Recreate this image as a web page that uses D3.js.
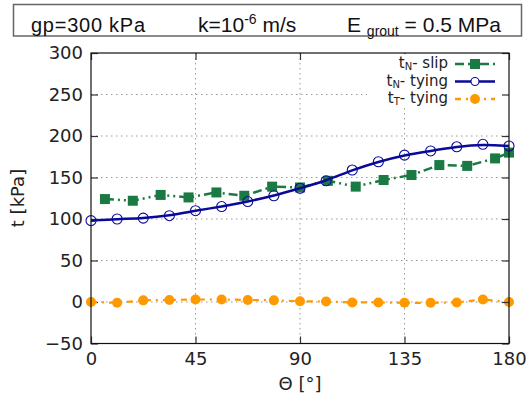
<!DOCTYPE html>
<html>
<head>
<meta charset="utf-8">
<script src="https://cdn.jsdelivr.net/npm/d3@7"></script>
<style>
  html, body { margin: 0; padding: 0; background: #fff; }
  svg { display: block; }
  text { font-family: "DejaVu Sans", sans-serif; fill: #222; }
</style>
</head>
<body>
<svg id="chart" width="526" height="399"></svg>
<script>
// Angle positions (degrees) and interface stresses (kPa)
const thetaSlip = [6, 18, 30, 42, 54, 66, 78, 90, 102, 114, 126, 138, 150, 162, 174, 180];
const tNSlip = [124, 122, 129, 126, 132, 128, 139, 138, 146, 139, 147, 153, 165, 164, 173, 180];

const thetaTying = [0, 11.25, 22.5, 33.75, 45, 56.25, 67.5, 78.75, 90, 101.25, 112.5, 123.75, 135, 146.25, 157.5, 168.75, 180];
const tNTying = [98, 100, 101, 104, 110, 115, 121, 128, 137, 146, 159, 169, 177, 182, 187, 190, 188];
const tTTying = [0, -1, 2, 2.5, 3, 3, 2.5, 2, 1, 0.5, -0.5, -0.5, -1, -1, -0.5, 3, 0];

const xTicks = [0, 45, 90, 135, 180];
const yTicks = [-50, 0, 50, 100, 150, 200, 250, 300];
const xGrid = [45, 90, 135];
const yGrid = [0, 50, 100, 150, 200, 250];

const svg = d3.select("#chart");
const L = 91, R = 509, T = 53, B = 343.5;
const x = d3.scaleLinear().domain([0, 180]).range([L, R]);
const y = d3.scaleLinear().domain([-50, 300]).range([B, T]);

const cGreen = "#1b7a43", cBlue = "#0a0a99", cOrange = "#ff9900";

// Header box with parameters
const head = svg.append("g");
head.append("rect").attr("x", 13.5).attr("y", 4.5).attr("width", 508).attr("height", 31.5)
  .attr("fill", "#fff").attr("stroke", "#666").attr("stroke-width", 1.5);
const hf = "'Liberation Sans', Arial, sans-serif";
head.append("text").attr("x", 31).attr("y", 31.5).style("font-family", hf)
  .style("font-size", "20px").style("fill", "#111").attr("textLength", 114).text("gp=300 kPa");
const t2 = head.append("text").attr("x", 198).attr("y", 31.5).style("font-family", hf)
  .style("font-size", "21px").style("fill", "#111");
t2.append("tspan").text("k=10");
t2.append("tspan").attr("dy", -8).style("font-size", "14px").text("-6");
t2.append("tspan").attr("dy", 8).text(" m/s");
const t3 = head.append("text").attr("x", 347).attr("y", 31.5).style("font-family", hf)
  .style("font-size", "21px").style("fill", "#111");
t3.append("tspan").text("E ");
t3.append("tspan").attr("dy", 4).style("font-size", "14px").text("grout");
t3.append("tspan").attr("dy", -4).text(" = 0.5 MPa");

// Grid
const grid = svg.append("g").attr("stroke", "#999").attr("stroke-width", 1)
  .attr("stroke-dasharray", "1.5,3.5");
grid.selectAll("line.gx").data(xGrid).join("line").attr("class", "gx")
  .attr("x1", d => x(d)).attr("x2", d => x(d)).attr("y1", T).attr("y2", B);
grid.selectAll("line.gy").data(yGrid).join("line").attr("class", "gy")
  .attr("x1", L).attr("x2", R).attr("y1", d => y(d)).attr("y2", d => y(d));

// Axes (inward ticks, mirrored)
function styleAxis(g) {
  g.select(".domain").remove();
  g.selectAll(".tick line").attr("stroke", "#333").attr("stroke-width", 1.2);
  g.selectAll(".tick text").style("font-family", "'DejaVu Sans', sans-serif")
    .style("font-size", "18px").attr("fill", "#222");
}
svg.append("g").attr("transform", `translate(0,${B})`)
  .call(d3.axisBottom(x).tickValues(xTicks).tickSize(-7).tickPadding(9).tickFormat(d3.format("d")))
  .call(styleAxis);
svg.append("g").attr("transform", `translate(0,${T})`)
  .call(d3.axisTop(x).tickValues(xTicks).tickSize(-7).tickFormat(""))
  .call(styleAxis);
svg.append("g").attr("transform", `translate(${L},0)`)
  .call(d3.axisLeft(y).tickValues(yTicks).tickSize(-7).tickPadding(8).tickFormat(d3.format("d")))
  .call(styleAxis);

// Series
const zipS = thetaSlip.map((t, i) => [t, tNSlip[i]]);
const zipN = thetaTying.map((t, i) => [t, tNTying[i]]);
const zipT = thetaTying.map((t, i) => [t, tTTying[i]]);

const lineLin = d3.line().x(d => x(d[0])).y(d => y(d[1]));
const lineSmooth = d3.line().x(d => x(d[0])).y(d => y(d[1])).curve(d3.curveBasis);

const plot = svg.append("g");
// tT tying
plot.append("path").attr("d", lineLin(zipT)).attr("fill", "none").attr("stroke", cOrange)
  .attr("stroke-width", 2.2).attr("stroke-dasharray", "6,5,2,5");
plot.selectAll("circle.tt").data(zipT).join("circle").attr("class", "tt")
  .attr("cx", d => x(d[0])).attr("cy", d => y(d[1])).attr("r", 5).attr("fill", cOrange);

// tN slip
plot.append("path").attr("d", lineLin(zipS)).attr("fill", "none").attr("stroke", cGreen)
  .attr("stroke-width", 2.5).attr("stroke-dasharray", "9,4,2,4,2,4");
plot.selectAll("rect.sq").data(zipS).join("rect").attr("class", "sq")
  .attr("x", d => x(d[0]) - 5).attr("y", d => y(d[1]) - 5).attr("width", 10).attr("height", 10)
  .attr("fill", cGreen);

// tN tying
plot.append("path").attr("d", lineSmooth(zipN)).attr("fill", "none").attr("stroke", cBlue)
  .attr("stroke-width", 2.5);
plot.selectAll("circle.tn").data(zipN).join("circle").attr("class", "tn")
  .attr("cx", d => x(d[0])).attr("cy", d => y(d[1])).attr("r", 5)
  .attr("fill", "none").attr("stroke", cBlue).attr("stroke-width", 1.1);

// Legend (opaque)
const leg = svg.append("g");
leg.append("rect").attr("x", 367).attr("y", 54).attr("width", 141).attr("height", 53).attr("fill", "#fff");
const entries = [
  { sub: "N", rest: "- slip", color: cGreen, dash: "9,4,2,4,2,4", mark: "sq" },
  { sub: "N", rest: "- tying", color: cBlue, dash: null, mark: "oc" },
  { sub: "T", rest: "- tying", color: cOrange, dash: "6,5,2,5", mark: "fc" }
];
entries.forEach((e, i) => {
  const yy = 64 + i * 17.5;
  const tx = leg.append("text").attr("x", 448).attr("y", yy + 4).attr("text-anchor", "end")
    .style("font-size", "15px");
  tx.append("tspan").text("t");
  tx.append("tspan").attr("dy", 2).style("font-size", "10px").text(e.sub);
  tx.append("tspan").attr("dy", -2).text(e.rest);
  const ln = leg.append("line").attr("x1", 455).attr("x2", 495).attr("y1", yy).attr("y2", yy)
    .attr("stroke", e.color).attr("stroke-width", e.mark === "oc" ? 2.5 : 2.3);
  if (e.dash) ln.attr("stroke-dasharray", e.dash);
  if (e.mark === "sq") leg.append("rect").attr("x", 470).attr("y", yy - 5).attr("width", 10).attr("height", 10).attr("fill", e.color);
  if (e.mark === "oc") leg.append("circle").attr("cx", 475).attr("cy", yy).attr("r", 4).attr("fill", "#fff").attr("stroke", e.color).attr("stroke-width", 1.1);
  if (e.mark === "fc") leg.append("circle").attr("cx", 475).attr("cy", yy).attr("r", 5).attr("fill", e.color);
});

// Right mirror ticks drawn over the legend box
svg.append("g").attr("transform", `translate(${R},0)`)
  .call(d3.axisRight(y).tickValues(yTicks).tickSize(-7).tickFormat(""))
  .call(styleAxis);

// Border
svg.append("rect").attr("x", L).attr("y", T).attr("width", R - L).attr("height", B - T)
  .attr("fill", "none").attr("stroke", "#111").attr("stroke-width", 1.2);

// Axis titles
svg.append("text").attr("transform", `translate(24,198) rotate(-90)`).attr("text-anchor", "middle")
  .style("font-size", "18px").text("t [kPa]");
svg.append("text").attr("x", 300).attr("y", 390).attr("text-anchor", "middle")
  .style("font-size", "18px").text("Θ [°]");
</script>
</body>
</html>
